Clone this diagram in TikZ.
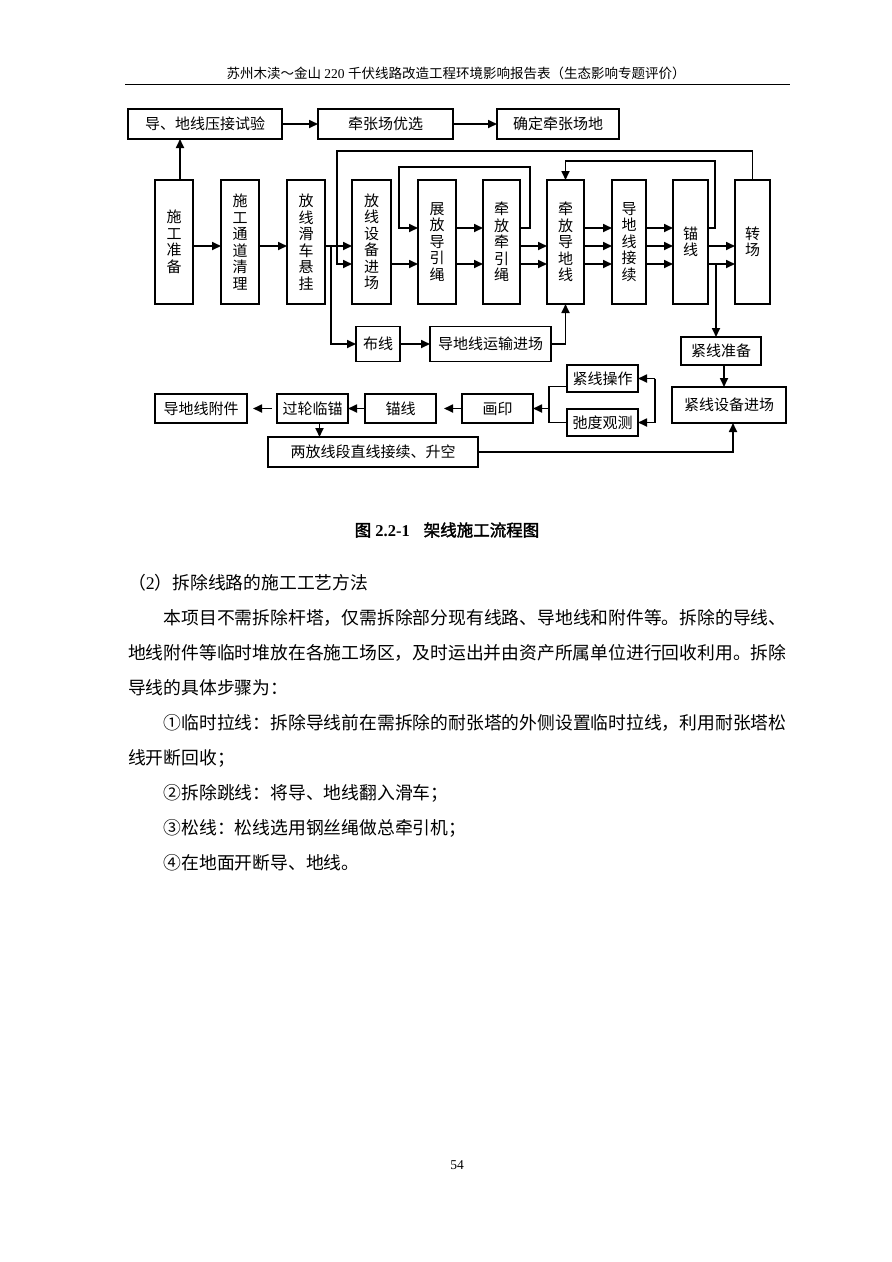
\documentclass[tikz,border=0pt]{standalone}
\usepackage{fontspec}
\setmainfont{Liberation Serif}
\newfontfamily\cjk[AutoFakeBold=2]{Noto Sans CJK SC}
\usetikzlibrary{positioning, arrows.meta}
\XeTeXlinebreaklocale "zh"
\XeTeXlinebreakskip=0pt plus 1pt

\begin{document}
\begin{tikzpicture}[x=1pt, y=-1pt,
    every node/.style={inner sep=0pt, outer sep=0pt},
    vbox/.style={draw, line width=1.6pt, minimum height=124pt, align=center,
        font=\cjk\fontsize{15}{16.5}\selectfont},
    hbox/.style={draw, line width=1.6pt, minimum height=30pt,
        font=\cjk\fontsize{15}{18}\selectfont},
    arr/.style={-{Triangle[length=9pt,width=8pt]}, line width=1.7pt},
    body/.style={anchor=west, font=\cjk\fontsize{17.8}{20}\selectfont}]

    \fill[white] (0,0) rectangle (892,1262);
    \useasboundingbox (0,0) rectangle (892,1262);

    % page head
    \node (head) at (456,73) {\fontsize{13.5}{16}\selectfont{\cjk 苏州木渎～金山} 220 {\cjk 千伏线路改造工程环境影响报告表（生态影响专题评价）}};
    \draw[line width=0.8pt] (125,84) -- (790,84);

    % top row
    \node[hbox, minimum width=154pt] (press) at (205,124) {导、地线压接试验};
    \node[hbox, minimum width=135pt, right=36pt of press] (site) {牵张场优选};
    \node[hbox, minimum width=122pt, right=44pt of site] (fix) {确定牵张场地};
    \draw[line width=2.5pt] (fix.north east) -- (fix.south east) -- (fix.south west);

    % main row
    \node[vbox, minimum width=38pt] (prep) at (174,242) {施\\工\\准\\备};
    \node[vbox, minimum width=38pt, right=28pt of prep] (road) {施\\工\\通\\道\\清\\理};
    \node[vbox, minimum width=38pt, right=28pt of road] (pulley) {放\\线\\滑\\车\\悬\\挂};
    \node[vbox, minimum width=39pt, right=27pt of pulley] (equip) {放\\线\\设\\备\\进\\场};
    \node[vbox, minimum width=38pt, right=27pt of equip] (guide) {展\\放\\导\\引\\绳};
    \node[vbox, minimum width=37pt, right=27pt of guide] (pull) {牵\\放\\牵\\引\\绳};
    \node[vbox, minimum width=37pt, right=27pt of pull] (cond) {牵\\放\\导\\地\\线};
    \node[vbox, minimum width=34pt, right=28pt of cond] (joint) {导\\地\\线\\接\\续};
    \node[vbox, minimum width=35pt, right=27pt of joint] (anch) {锚\\线};
    \node[vbox, minimum width=35pt, right=27pt of anch] (move) {转\\场};

    \coordinate (l1) at (0,228);
    \coordinate (l2) at (0,246);
    \coordinate (l3) at (0,264);
    \coordinate (top1) at (337,151);
    \coordinate (top2) at (399,167);

    % lower rows
    \node[hbox, minimum width=44pt, minimum height=35pt] (lay) at (378,344) {布线};
    \node[hbox, minimum width=121pt, minimum height=35pt, right=30pt of lay] (haul) {导地线运输进场};
    \node[hbox, minimum width=80pt, minimum height=28pt] (tprep) at (721,351) {紧线准备};
    \node[hbox, minimum width=114pt, minimum height=36pt, line width=2pt] (tequip) at (729,405) {紧线设备进场};
    \node[hbox, minimum width=71pt, minimum height=27pt] (tension) at (602.5,378.5) {紧线操作};
    \node[hbox, minimum width=71pt, minimum height=27pt, below=17pt of tension] (sag) {弛度观测};
    \node[hbox, minimum width=71pt, minimum height=29pt] (mark) at (497.5,408.5) {画印};
    \node[hbox, minimum width=71pt, minimum height=29pt, left=26pt of mark] (anch2) {锚线};
    \node[hbox, minimum width=71pt, minimum height=29pt, left=17pt of anch2] (temp) {过轮临锚};
    \node[hbox, minimum width=92pt, minimum height=29pt, left=30pt of temp] (fitting) {导地线附件};
    \node[hbox, minimum width=210pt, minimum height=30pt] (splice) at (373,452) {两放线段直线接续、升空};

    % connectors
    \draw[arr] ([xshift=6pt]prep.north) -- ([xshift=6pt]prep.north |- press.south);
    \draw[arr] (press.east) -- (site.west);
    \draw[arr] (site.east) -- (fix.west);

    \draw[arr] (prep.east |- l2) -- (road.west |- l2);
    \draw[arr] (road.east |- l2) -- (pulley.west |- l2);
    \draw[arr] (pulley.east |- l2) -- (equip.west |- l2);
    \draw[arr] ([xshift=6pt]pulley.east |- l2) |- (lay.west);
    \draw[arr] (move.north) |- (top1) |- (equip.west |- l3);
    \draw[arr] (equip.east |- l3) -- (guide.west |- l3);
    \draw[arr] (guide.east |- l1) -- (pull.west |- l1);
    \draw[arr] (guide.east |- l3) -- (pull.west |- l3);
    \draw[arr] (pull.east |- l1) -- ++(10,0) |- (top2) |- (guide.west |- l1);
    \draw[arr] (pull.east |- l2) -- (cond.west |- l2);
    \draw[arr] (pull.east |- l3) -- (cond.west |- l3);
    \draw[arr] (cond.east |- l1) -- (joint.west |- l1);
    \draw[arr] (cond.east |- l2) -- (joint.west |- l2);
    \draw[arr] (cond.east |- l3) -- (joint.west |- l3);
    \draw[arr] (joint.east |- l1) -- (anch.west |- l1);
    \draw[arr] (joint.east |- l2) -- (anch.west |- l2);
    \draw[arr] (joint.east |- l3) -- (anch.west |- l3);
    \draw[arr] (anch.east |- l2) -- (move.west |- l2);
    \draw[arr] (anch.east |- l3) -- (move.west |- l3);
    \draw[arr] (anch.east |- l1) -- ++(7,0) |- ([yshift=19pt]cond.north) -- (cond.north);
    \draw[arr] ([xshift=8pt]anch.east |- l3) -- ([xshift=8pt]anch.east |- tprep.north);

    \draw[arr] (lay.east) -- (haul.west);
    \draw[arr] (haul.east) -| (cond.south);
    \draw[arr] ([xshift=3pt]tprep.south) -- ([xshift=3pt]tprep.south |- tequip.north);
    \draw[arr] ([xshift=17pt]tension.east) -- (tension.east);
    \draw[arr] ([xshift=17pt]tension.east) -- ([xshift=17pt]sag.east) -- (sag.east);
    \draw[line width=1.7pt] ([yshift=-8pt]tension.west) -| ([xshift=-18pt]sag.west) -- (sag.west);
    \draw[arr] ([xshift=-18pt]sag.west |- mark.east) -- (mark.east);
    \draw[arr, shorten >=8pt] (mark.west) -- (anch2.east);
    \draw[arr] (anch2.west) -- (temp.east);
    \draw[arr, shorten <=5pt, shorten >=6pt] (temp.west) -- (fitting.east);
    \draw[arr] ([xshift=7pt]temp.south) -- ([xshift=7pt]temp.south |- splice.north);
    \draw[arr] (splice.east) -| ([xshift=4pt]tequip.south);

    % caption and text
    \node[font=\bfseries\fontsize{16.5}{20}\selectfont] (cap) at (447,530) {{\cjk 图} 2.2-1\hspace{14pt}{\cjk 架线施工流程图}};
    \node[body] (t0) at (128,583) {（{\rmfamily 2}）拆除线路的施工工艺方法};
    \node[body] (t1) at (163.6,618) {\makebox[624pt][s]{本项目不需拆除杆塔，仅需拆除部分现有线路、导地线和附件等。拆除的导线、}};
    \node[body] (t2) at (128,653) {\makebox[660pt][s]{地线附件等临时堆放在各施工场区，及时运出并由资产所属单位进行回收利用。拆除}};
    \node[body] (t3) at (128,688) {导线的具体步骤为：};
    \node[body] (t4) at (163.6,723) {\makebox[624pt][s]{①临时拉线：拆除导线前在需拆除的耐张塔的外侧设置临时拉线，利用耐张塔松}};
    \node[body] (t5) at (128,758) {线开断回收；};
    \node[body] (t6) at (163.6,793) {②拆除跳线：将导、地线翻入滑车；};
    \node[body] (t7) at (163.6,828) {③松线：松线选用钢丝绳做总牵引机；};
    \node[body] (t8) at (163.6,863) {④在地面开断导、地线。};

    \node (page) at (457,1165) {\fontsize{13.5}{16}\selectfont 54};
\end{tikzpicture}
\end{document}
